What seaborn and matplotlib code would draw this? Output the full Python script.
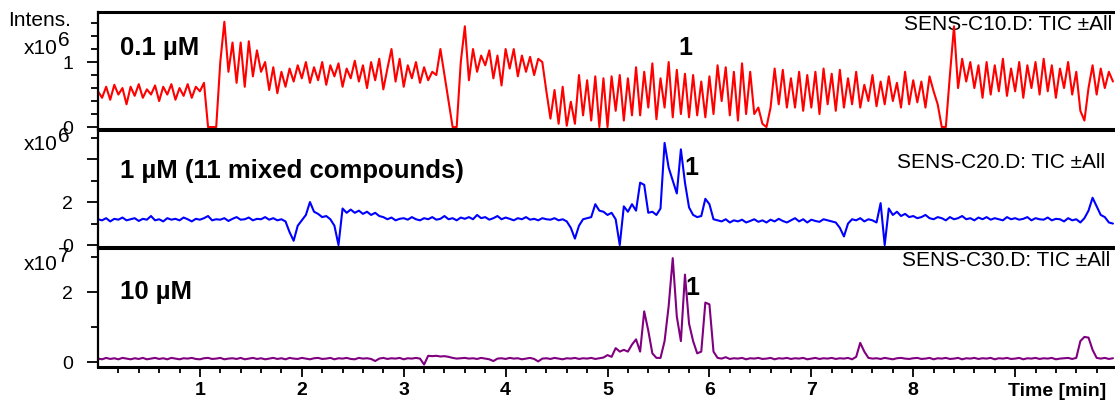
import numpy as np
import pandas as pd
import matplotlib
matplotlib.use("Agg")
import matplotlib.pyplot as plt
from matplotlib.ticker import FixedLocator
import seaborn as sns

# Sampling interval of the chromatograms (minutes)
STEP_MIN = 0.04

# TIC intensities, 0.1 uM run (x10^6), one value every 0.04 min from 0.00 min
tic_01uM = [
    0.55, 0.45, 0.62, 0.42, 0.65, 0.50, 0.60, 0.35, 0.62, 0.48,   # 0.00-0.36
    0.66, 0.45, 0.58, 0.50, 0.64, 0.40, 0.62, 0.50, 0.66, 0.42,   # 0.40-0.76
    0.60, 0.48, 0.66, 0.45, 0.62, 0.55, 0.68, 0.00, 0.00, 0.00,   # 0.80-1.16
    1.00, 1.62, 0.85, 1.30, 0.68, 1.30, 0.62, 1.32, 0.78, 1.18,   # 1.20-1.56
    0.85, 1.00, 0.57, 0.92, 0.52, 0.85, 0.62, 0.90, 0.70, 0.95,   # 1.60-1.96
    0.75, 1.00, 0.68, 0.92, 0.72, 1.00, 0.65, 0.95, 0.78, 0.98,   # 2.00-2.36
    0.62, 0.90, 0.75, 1.02, 0.70, 0.95, 0.60, 1.00, 0.72, 1.05,   # 2.40-2.76
    0.58, 0.90, 1.20, 0.70, 1.05, 0.62, 0.95, 0.75, 1.00, 0.68,   # 2.80-3.16
    0.92, 0.72, 0.85, 0.80, 1.20, 0.80, 0.40, 0.00, 0.00, 1.00,   # 3.20-3.56
    1.55, 0.72, 1.20, 0.85, 1.10, 0.95, 1.18, 0.75, 1.10, 0.64,   # 3.60-3.96
    1.20, 0.90, 1.20, 0.78, 1.10, 0.85, 1.08, 0.80, 1.05, 1.00,   # 4.00-4.36
    0.55, 0.13, 0.57, 0.05, 0.62, 0.02, 0.39, 0.05, 0.80, 0.18,   # 4.40-4.76
    0.72, 0.10, 0.78, 0.00, 0.75, 0.00, 0.78, 0.25, 0.80, 0.10,   # 4.80-5.16
    0.75, 0.18, 0.92, 0.18, 0.85, 0.30, 0.98, 0.12, 0.75, 0.30,   # 5.20-5.56
    1.00, 0.15, 0.88, 0.20, 0.82, 0.15, 0.80, 0.18, 0.70, 0.15,   # 5.60-5.96
    0.78, 0.20, 0.95, 0.40, 0.92, 0.18, 0.85, 0.10, 0.98, 0.20,   # 6.00-6.36
    0.85, 0.20, 0.30, 0.05, 0.00, 0.30, 0.90, 0.35, 0.88, 0.30,   # 6.40-6.76
    0.75, 0.30, 0.85, 0.25, 0.80, 0.30, 0.85, 0.20, 0.90, 0.35,   # 6.80-7.16
    0.82, 0.25, 0.88, 0.30, 0.75, 0.35, 0.85, 0.30, 0.65, 0.40,   # 7.20-7.56
    0.80, 0.32, 0.70, 0.35, 0.78, 0.40, 0.68, 0.30, 0.85, 0.35,   # 7.60-7.96
    0.72, 0.38, 0.70, 0.30, 0.78, 0.55, 0.35, 0.00, 0.00, 0.80,   # 8.00-8.36
    1.55, 0.60, 1.05, 0.70, 1.00, 0.60, 0.95, 0.45, 1.00, 0.50,   # 8.40-8.76
    0.95, 0.55, 1.05, 0.48, 0.90, 0.55, 1.00, 0.45, 0.95, 0.60,   # 8.80-9.16
    1.00, 0.50, 1.05, 0.55, 0.95, 0.45, 0.90, 0.60, 1.00, 0.50,   # 9.20-9.56
    0.85, 0.25, 0.10, 0.60, 0.95, 0.50, 0.90, 0.60, 0.85, 0.70,   # 9.60-9.96
]

# TIC intensities, 1 uM run (x10^6)
tic_1uM = [
    1.20, 1.15, 1.25, 1.10, 1.22, 1.18, 1.28, 1.15, 1.20, 1.25,   # 0.00-0.36
    1.12, 1.22, 1.18, 1.35, 1.15, 1.20, 1.10, 1.25, 1.18, 1.22,   # 0.40-0.76
    1.15, 1.28, 1.20, 1.10, 1.22, 1.18, 1.25, 1.35, 1.15, 1.20,   # 0.80-1.16
    1.18, 1.25, 1.12, 1.22, 1.30, 1.18, 1.20, 1.28, 1.15, 1.22,   # 1.20-1.56
    1.20, 1.30, 1.18, 1.25, 1.15, 1.20, 1.10, 0.60, 0.20, 0.90,   # 1.60-1.96
    1.15, 1.40, 2.00, 1.55, 1.45, 1.30, 1.35, 1.20, 0.90, 0.00,   # 2.00-2.36
    1.70, 1.50, 1.65, 1.50, 1.60, 1.45, 1.55, 1.40, 1.50, 1.35,   # 2.40-2.76
    1.30, 1.20, 1.28, 1.15, 1.22, 1.25, 1.18, 1.30, 1.20, 1.15,   # 2.80-3.16
    1.25, 1.20, 1.30, 1.18, 1.22, 1.35, 1.20, 1.25, 1.15, 1.28,   # 3.20-3.56
    1.22, 1.30, 1.20, 1.40, 1.25, 1.30, 1.18, 1.25, 1.35, 1.20,   # 3.60-3.96
    1.28, 1.22, 1.15, 1.25, 1.20, 1.30, 1.18, 1.22, 1.15, 1.25,   # 4.00-4.36
    1.20, 1.18, 1.25, 1.15, 1.20, 1.10, 0.80, 0.30, 0.90, 1.20,   # 4.40-4.76
    1.25, 1.30, 1.90, 1.60, 1.55, 1.40, 1.50, 1.20, 0.00, 1.80,   # 4.80-5.16
    1.55, 1.90, 1.60, 2.90, 2.80, 1.50, 1.55, 1.40, 1.70, 4.75,   # 5.20-5.56
    3.60, 3.00, 2.40, 4.45, 2.90, 1.75, 1.40, 1.30, 1.35, 2.15,   # 5.60-5.96
    1.90, 1.20, 1.15, 1.10, 1.20, 1.05, 1.15, 1.10, 1.18, 1.05,   # 6.00-6.36
    1.12, 1.20, 1.08, 1.15, 1.05, 1.18, 1.10, 1.22, 1.12, 1.05,   # 6.40-6.76
    1.15, 1.25, 1.10, 1.20, 1.05, 1.18, 1.12, 1.08, 1.20, 1.15,   # 6.80-7.16
    1.10, 1.05, 0.80, 0.40, 1.00, 1.20, 1.15, 1.25, 1.10, 1.20,   # 7.20-7.56
    1.15, 1.05, 1.95, 0.00, 1.70, 1.40, 1.55, 1.35, 1.45, 1.30,   # 7.60-7.96
    1.35, 1.25, 1.30, 1.40, 1.25, 1.20, 1.30, 1.25, 1.15, 1.30,   # 8.00-8.36
    1.20, 1.25, 1.35, 1.20, 1.25, 1.15, 1.28, 1.20, 1.30, 1.18,   # 8.40-8.76
    1.25, 1.20, 1.15, 1.30, 1.20, 1.25, 1.18, 1.22, 1.30, 1.15,   # 8.80-9.16
    1.25, 1.20, 1.18, 1.28, 1.15, 1.22, 1.20, 1.10, 1.25, 1.15,   # 9.20-9.56
    1.20, 1.05, 1.25, 1.60, 2.20, 1.80, 1.40, 1.30, 1.05, 1.00,   # 9.60-9.96
]

# TIC intensities, 10 uM run (x10^7)
tic_10uM = [
    0.10, 0.08, 0.12, 0.09, 0.11, 0.08, 0.12, 0.10, 0.08, 0.11,   # 0.00-0.36
    0.09, 0.12, 0.08, 0.10, 0.12, 0.09, 0.11, 0.08, 0.12, 0.10,   # 0.40-0.76
    0.08, 0.11, 0.10, 0.12, 0.09, 0.08, 0.11, 0.12, 0.09, 0.10,   # 0.80-1.16
    0.12, 0.08, 0.10, 0.11, 0.09, 0.12, 0.08, 0.10, 0.12, 0.09,   # 1.20-1.56
    0.11, 0.08, 0.10, 0.12, 0.09, 0.11, 0.08, 0.12, 0.10, 0.09,   # 1.60-1.96
    0.12, 0.10, 0.08, 0.11, 0.12, 0.09, 0.10, 0.12, 0.08, 0.11,   # 2.00-2.36
    0.10, 0.12, 0.09, 0.08, 0.12, 0.10, 0.11, 0.09, 0.03, 0.10,   # 2.40-2.76
    0.12, 0.09, 0.11, 0.10, 0.12, 0.08, 0.11, 0.10, 0.12, 0.10,   # 2.80-3.16
    -0.07, 0.18, 0.17, 0.18, 0.16, 0.17, 0.15, 0.12, 0.10, 0.11,  # 3.20-3.56
    0.12, 0.10, 0.11, 0.09, 0.12, 0.10, 0.08, 0.03, 0.10, 0.11,   # 3.60-3.96
    0.09, 0.12, 0.10, 0.11, 0.08, 0.10, 0.12, 0.09, 0.02, 0.10,   # 4.00-4.36
    0.11, 0.09, 0.12, 0.10, 0.08, 0.11, 0.10, 0.12, 0.09, 0.11,   # 4.40-4.76
    0.10, 0.12, 0.09, 0.11, 0.13, 0.20, 0.15, 0.40, 0.30, 0.35,   # 4.80-5.16
    0.30, 0.50, 0.65, 0.30, 1.45, 0.90, 0.25, 0.12, 0.12, 0.60,   # 5.20-5.56
    1.60, 2.97, 1.30, 0.60, 2.50, 1.10, 0.60, 0.25, 0.30, 1.70,   # 5.60-5.96
    1.65, 0.30, 0.12, 0.10, 0.14, 0.09, 0.11, 0.10, 0.12, 0.08,   # 6.00-6.36
    0.11, 0.10, 0.12, 0.09, 0.10, 0.12, 0.08, 0.11, 0.10, 0.12,   # 6.40-6.76
    0.09, 0.11, 0.10, 0.12, 0.08, 0.10, 0.12, 0.09, 0.11, 0.10,   # 6.80-7.16
    0.12, 0.09, 0.11, 0.10, 0.12, 0.08, 0.15, 0.55, 0.30, 0.12,   # 7.20-7.56
    0.10, 0.11, 0.09, 0.12, 0.10, 0.08, 0.11, 0.12, 0.10, 0.09,   # 7.60-7.96
    0.11, 0.12, 0.09, 0.10, 0.12, 0.08, 0.11, 0.10, 0.12, 0.09,   # 8.00-8.36
    0.10, 0.12, 0.08, 0.11, 0.10, 0.12, 0.09, 0.11, 0.10, 0.12,   # 8.40-8.76
    0.08, 0.11, 0.10, 0.12, 0.09, 0.10, 0.12, 0.08, 0.11, 0.10,   # 8.80-9.16
    0.12, 0.09, 0.11, 0.10, 0.12, 0.08, 0.10, 0.11, 0.12, 0.09,   # 9.20-9.56
    0.12, 0.60, 0.72, 0.70, 0.35, 0.12, 0.10, 0.12, 0.09, 0.11,   # 9.60-9.96
]

traces = [tic_01uM, tic_1uM, tic_10uM]
trace_colors = ["#ff0000", "#0000ff", "#800080"]
panel_titles = ["0.1 \u00b5M", "1 \u00b5M (11 mixed compounds)", "10 \u00b5M"]
file_labels = ["SENS-C10.D: TIC \u00b1All", "SENS-C20.D: TIC \u00b1All",
               "SENS-C30.D: TIC \u00b1All"]
exponents = ["6", "6", "7"]
y_limits = [(-0.03, 1.77), (-0.09, 5.35), (-0.14, 3.26)]
y_major = [[0, 1], [0, 2, 4], [0, 2]]
y_major_labels = [["0", "1"], ["0", "2", ""], ["0", "2"]]
y_minor = [[0.2, 0.4, 0.6, 0.8, 1.2, 1.4, 1.6], [1, 3, 5], [1, 3]]
peak_name = "1"
peak_pos = [(5.76, 1.22), (5.82, 3.58), (5.83, 2.11)]
x_major = [1, 2, 3, 4, 5, 6, 7, 8, 9]
x_major_labels = ["1", "2", "3", "4", "5", "6", "7", "8", ""]
x_minor = [round(0.2 * k, 1) for k in range(1, 50) if k % 5 != 0]
x_title = "Time [min]"
y_title = "Intens."

sns.set_style("white")
plt.rcParams["font.family"] = ["Liberation Sans", "DejaVu Sans"]
plt.rcParams["text.color"] = "black"
plt.rcParams["xtick.color"] = "black"
plt.rcParams["ytick.color"] = "black"
plt.rcParams["axes.labelcolor"] = "black"

W, H = 1115, 400
fig = plt.figure(figsize=(W / 100, H / 100), dpi=100)

# panel extents in pixels (top, bottom)
rows = [(12, 129), (130, 247), (248, 367)]
left_px, right_px = 98, 1115

title_pos = [(0.0216, 0.69), (0.0216, 0.65), (0.0216, 0.63)]
file_pos = [(0.997, 0.897), (0.990, 0.726), (0.995, 0.899)]
scale_pos = [(48, 41), (144, 137), (264, 256)]

axes = []
for k, (top, bottom) in enumerate(rows):
    ax = fig.add_axes([left_px / W, 1 - bottom / H,
                       (right_px - left_px) / W, (bottom - top) / H])
    axes.append(ax)
    values = traces[k]
    df = pd.DataFrame({"time": np.round(np.arange(len(values)) * STEP_MIN, 2),
                       "intensity": values})
    sns.lineplot(data=df, x="time", y="intensity", ax=ax,
                 color=trace_colors[k], linewidth=1.5, zorder=2)
    ax.set_xlim(0, 9.98)
    ax.set_ylim(*y_limits[k])
    ax.set_xlabel("")
    ax.set_ylabel("")

    for side in ("top", "bottom"):
        ax.spines[side].set_linewidth(2.2)
        ax.spines[side].set_color("black")
    ax.spines["left"].set_linewidth(1.6)
    ax.spines["left"].set_color("black")
    ax.spines["right"].set_visible(False)

    ax.yaxis.set_major_locator(FixedLocator(y_major[k]))
    ax.set_yticklabels(y_major_labels[k])
    ax.yaxis.set_minor_locator(FixedLocator(y_minor[k]))
    ax.tick_params(axis="y", which="major", direction="out", length=8,
                   width=1.3, pad=10, labelsize=14, left=True,
                   color="black", labelcolor="black")
    ax.tick_params(axis="y", which="minor", direction="out", length=5,
                   width=1.3, left=True, color="black")

    if k < 2:
        ax.tick_params(axis="x", which="both", bottom=False, labelbottom=False)
    else:
        ax.xaxis.set_major_locator(FixedLocator(x_major))
        ax.set_xticklabels(x_major_labels, fontweight="bold")
        ax.xaxis.set_minor_locator(FixedLocator(x_minor))
        ax.tick_params(axis="x", which="major", direction="out", length=7,
                       width=1.3, pad=4, labelsize=14, bottom=True,
                       color="black", labelcolor="black")
        ax.tick_params(axis="x", which="minor", direction="out", length=4.5,
                       width=1.3, bottom=True, color="black")

    ax.text(*title_pos[k], panel_titles[k], transform=ax.transAxes,
            ha="left", va="center", fontsize=18.5, fontweight="bold",
            color="black")
    ax.text(*file_pos[k], file_labels[k], transform=ax.transAxes,
            ha="right", va="center", fontsize=15, color="black", zorder=1)
    ax.text(*peak_pos[k], peak_name, ha="center", va="center",
            fontsize=18, fontweight="bold", color="black")

    y_x10, y_exp = scale_pos[k]
    fig.text(58 / W, 1 - y_x10 / H, "x10", ha="right", va="center",
             fontsize=15, color="black")
    fig.text(58 / W, 1 - y_exp / H, exponents[k], ha="left", va="center",
             fontsize=15, color="black")

fig.text(40 / W, 1 - 20 / H, y_title, ha="center", va="center", fontsize=15,
         color="black")
fig.text(1106 / W, 1 - 391 / H, x_title, ha="right", va="center",
         fontsize=14, fontweight="bold", color="black")

fig.savefig("out.png", dpi=100)
